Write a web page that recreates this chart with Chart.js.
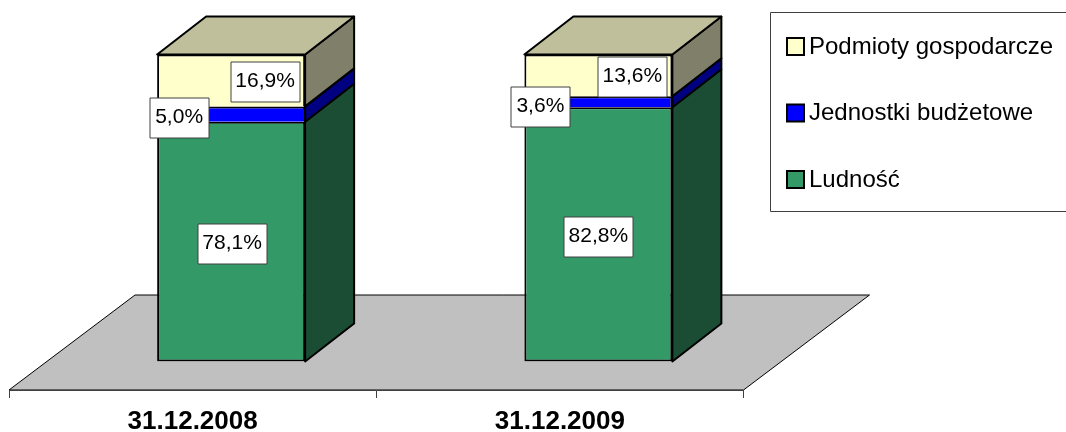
<!DOCTYPE html>
<html>
<head>
<meta charset="utf-8">
<script src="https://cdn.jsdelivr.net/npm/chart.js@4"></script>
<style>
    body { margin: 0; background: #fff; }
    canvas { display: block; }
</style>
</head>
<body>
<canvas id="chart" width="1066" height="432"></canvas>
<script>
const categories = ['31.12.2008', '31.12.2009'];
const ludnosc = [78.1, 82.8];
const jednostki = [5.0, 3.6];
const podmioty = [16.9, 13.6];

// fake 3d: how far the floor and the bars go back
const floorDepth = { x: 126, y: 95 };
const barDepth = { x: 49, y: 38 };
const barShift = { x: (floorDepth.x - barDepth.x) / 2, y: (floorDepth.y - barDepth.y) / 2 };

const sideColors = ['#1A4D33', '#000080', '#80806A'];
const topColor = '#BFBF9B';

// label box shift from the middle of its segment, per dataset and bar
const labelShift = [
    [[1, 2], [0, 1.7]],
    [[-52, 3], [-58, 4.7]],
    [[34, 1], [34, 1]]
];
const labelW = 69, labelH = 40;

function polygon(ctx, pts, fill) {
    ctx.beginPath();
    pts.forEach((p, i) => i ? ctx.lineTo(p[0], p[1]) : ctx.moveTo(p[0], p[1]));
    ctx.closePath();
    ctx.fillStyle = fill;
    ctx.fill();
    ctx.stroke();
}

const scene = {
    id: 'scene',
    beforeDraw(chart) {
        const { ctx, scales: { x, y } } = chart;
        ctx.save();
        ctx.strokeStyle = '#000';
        ctx.lineWidth = 1;
        polygon(ctx, [
            [x.left, y.bottom],
            [x.right, y.bottom],
            [x.right + floorDepth.x, y.bottom - floorDepth.y],
            [x.left + floorDepth.x, y.bottom - floorDepth.y]
        ], '#C0C0C0');
        ctx.restore();
    },
    beforeDatasetsDraw(chart) {
        const { ctx } = chart;
        ctx.save();
        ctx.translate(barShift.x, -barShift.y);
        ctx.strokeStyle = '#000';
        ctx.lineWidth = 2;
        ctx.lineJoin = 'round';
        chart.data.datasets.forEach((ds, d) => {
            chart.getDatasetMeta(d).data.forEach(bar => {
                const r = bar.x + bar.width / 2;
                polygon(ctx, [
                    [r, bar.y],
                    [r + barDepth.x, bar.y - barDepth.y],
                    [r + barDepth.x, bar.base - barDepth.y],
                    [r, bar.base]
                ], sideColors[d]);
                if (d === chart.data.datasets.length - 1) {
                    const l = bar.x - bar.width / 2;
                    polygon(ctx, [
                        [l, bar.y],
                        [r, bar.y],
                        [r + barDepth.x, bar.y - barDepth.y],
                        [l + barDepth.x, bar.y - barDepth.y]
                    ], topColor);
                }
            });
        });
        // bars themselves stay shifted until afterDatasetsDraw
    },
    afterDatasetsDraw(chart) {
        const { ctx } = chart;
        chart.data.datasets.forEach((ds, d) => {
            chart.getDatasetMeta(d).data.forEach((bar, i) => {
                const cx = bar.x + labelShift[d][i][0];
                const cy = (bar.y + bar.base) / 2 + labelShift[d][i][1];
                ctx.fillStyle = '#fff';
                ctx.strokeStyle = '#404040';
                ctx.lineWidth = 1;
                ctx.beginPath();
                const w = d === 1 ? labelW - 10 : labelW;
                ctx.rect(Math.round(cx - w / 2) + 0.5, Math.round(cy - labelH / 2) + 0.5, w, labelH);
                ctx.fill();
                ctx.stroke();
                ctx.fillStyle = '#000';
                ctx.font = '21px "Liberation Sans"';
                ctx.textAlign = 'center';
                ctx.textBaseline = 'middle';
                ctx.fillText(ds.data[i].toFixed(1).replace('.', ',') + '%', cx, cy);
            });
        });
        ctx.restore();
    },
    afterDraw(chart) {
        // legend box, runs off the right edge like the original
        const { ctx } = chart;
        ctx.save();
        ctx.fillStyle = '#fff';
        ctx.strokeStyle = '#404040';
        ctx.lineWidth = 1;
        ctx.beginPath();
        ctx.rect(770.5, 12.5, 310, 199);
        ctx.fill();
        ctx.stroke();
        const rows = chart.data.datasets.slice().reverse();
        rows.forEach((ds, i) => {
            const top = 37 + i * 66.5;
            ctx.fillStyle = ds.backgroundColor;
            ctx.strokeStyle = '#000';
            ctx.lineWidth = 2;
            ctx.fillRect(787, top + 1, 17, 17);
            ctx.strokeRect(787, top + 1, 17, 17);
            ctx.fillStyle = '#000';
            ctx.font = '24px "Liberation Sans"';
            ctx.textAlign = 'left';
            ctx.textBaseline = 'middle';
            ctx.fillText(ds.label, 809, top + 10);
        });
        ctx.restore();
    }
};

const upperBorder = { top: 2, left: 2, right: 2, bottom: 0 };

new Chart(document.getElementById('chart').getContext('2d'), {
    type: 'bar',
    data: {
        labels: categories,
        datasets: [
            { label: 'Ludność', data: ludnosc, backgroundColor: '#339966', borderWidth: 2 },
            { label: 'Jednostki budżetowe', data: jednostki, backgroundColor: '#0000FF', borderWidth: upperBorder },
            { label: 'Podmioty gospodarcze', data: podmioty, backgroundColor: '#FFFFCC', borderWidth: upperBorder }
        ]
    },
    options: {
        responsive: false,
        animation: false,
        layout: { padding: { left: 9, right: 322.5, top: 83, bottom: 0 } },
        datasets: {
            bar: {
                categoryPercentage: 1,
                barPercentage: 0.403,
                borderColor: '#000',
                borderSkipped: false
            }
        },
        scales: {
            x: {
                stacked: true,
                afterFit: scale => { scale.height = 42; },
                border: { color: '#404040', width: 1 },
                grid: { offset: true, drawOnChartArea: false, tickLength: 8, tickColor: '#404040' },
                ticks: {
                    color: '#000',
                    padding: 8,
                    maxRotation: 0,
                    font: { family: '"Liberation Sans"', size: 26, weight: 'bold' }
                }
            },
            y: { stacked: true, display: false, min: 0, max: 100 }
        },
        plugins: { legend: { display: false }, tooltip: { enabled: false } }
    },
    plugins: [scene]
});
</script>
</body>
</html>
